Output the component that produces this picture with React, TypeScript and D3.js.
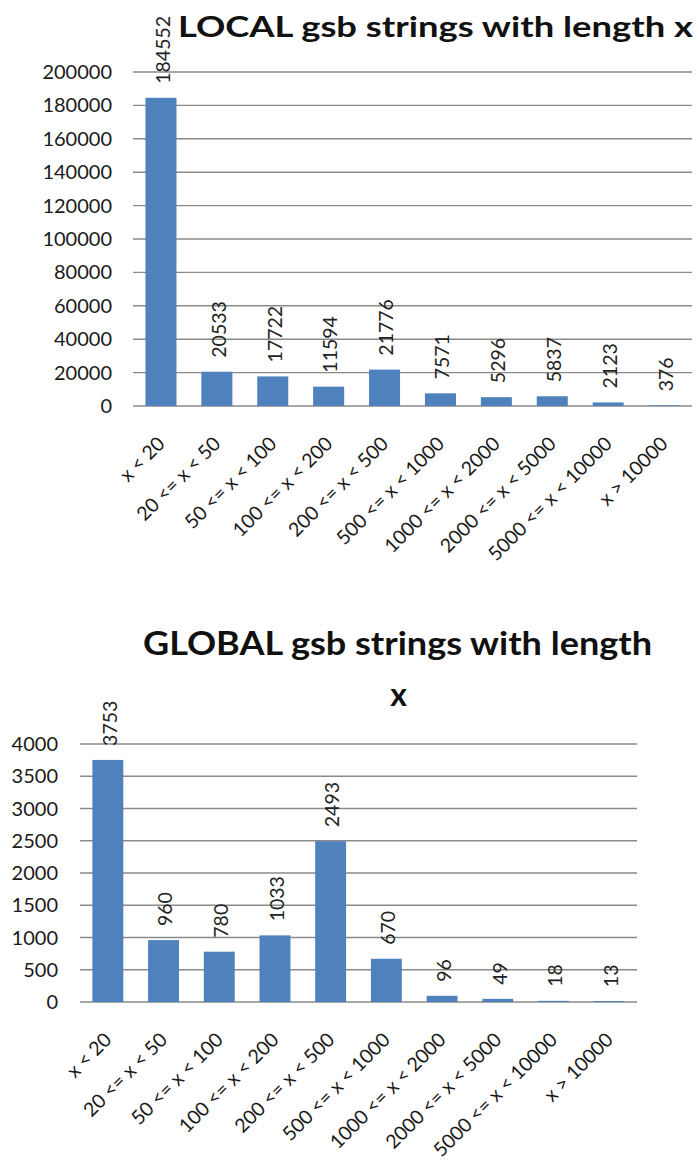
import React from "react";
import * as d3 from "d3";

// Length buckets shared by both charts
const categories = [
  "x < 20",
  "20 <= x < 50",
  "50 <= x < 100",
  "100 <= x < 200",
  "200 <= x < 500",
  "500 <= x < 1000",
  "1000 <= x < 2000",
  "2000 <= x < 5000",
  "5000 <= x < 10000",
  "x > 10000",
];

const localCounts = [184552, 20533, 17722, 11594, 21776, 7571, 5296, 5837, 2123, 376];
const globalCounts = [3753, 960, 780, 1033, 2493, 670, 96, 49, 18, 13];

const localTicks = [0, 20000, 40000, 60000, 80000, 100000, 120000, 140000, 160000, 180000, 200000];
const globalTicks = [0, 500, 1000, 1500, 2000, 2500, 3000, 3500, 4000];

const BAR = "#4F81BD";
const GRID = "#8a8a8a";
const FONT = "Lato, 'Open Sans', sans-serif";

type PanelProps = {
  values: number[];
  ticks: number[];
  yMax: number;
  x0: number;
  x1: number;
  yTop: number;
  yBottom: number;
  tickRight: number;
};

function Panel({ values, ticks, yMax, x0, x1, yTop, yBottom, tickRight }: PanelProps) {
  const x = d3.scaleBand<string>().domain(categories).range([x0, x1]).paddingInner(0.445).paddingOuter(0.2225);
  const y = d3.scaleLinear().domain([0, yMax]).range([yBottom, yTop]);
  const bw = x.bandwidth();
  return (
    <g>
      {ticks.map((t) => (
        <g key={"t" + t}>
          <line x1={x0} x2={x1} y1={y(t)} y2={y(t)} stroke={GRID} strokeWidth={1.4} />
          <text x={tickRight} y={y(t)} dy="0.35em" textAnchor="end" fontSize={20} fontFamily={FONT} fill="#1a1a1a">
            {t}
          </text>
        </g>
      ))}
      {values.map((v, i) => {
        const c = categories[i];
        const cx = (x(c) as number) + bw / 2;
        return (
          <g key={c}>
            <rect x={x(c)} y={y(v)} width={bw} height={yBottom - y(v)} fill={BAR} />
            <text
              transform={`translate(${cx + 2},${y(v) - 14}) rotate(-90)`}
              dy="0.35em"
              textAnchor="start"
              fontSize={19.5}
              fontFamily={FONT}
              fill="#222"
            >
              {v}
            </text>
            <text
              transform={`translate(${cx + 5},${yBottom + 39}) rotate(-45)`}
              textAnchor="end"
              fontSize={19.5}
              fontFamily={FONT}
              fill="#1a1a1a"
            >
              {c}
            </text>
          </g>
        );
      })}
    </g>
  );
}

export default function App() {
  return (
    <svg
      width={700}
      height={1164}
      style={{ position: "absolute", left: 0, top: 0, background: "#fff" }}
    >
      <rect width={700} height={1164} fill="#fff" />
      <text
        x={178}
        y={37}
        fontSize={28.5}
        fontWeight="bold"
        fontFamily={FONT}
        fill="#111"
        textLength={515}
        lengthAdjust="spacingAndGlyphs"
      >
        LOCAL gsb strings with length x
      </text>
      <Panel values={localCounts} ticks={localTicks} yMax={200000} x0={133} x1={692} yTop={72} yBottom={406} tickRight={112} />

      <text
        x={143}
        y={655}
        fontSize={32}
        fontWeight="bold"
        fontFamily={FONT}
        fill="#111"
        textLength={509}
        lengthAdjust="spacingAndGlyphs"
      >
        GLOBAL gsb strings with length
      </text>
      <text x={398.5} y={706} textAnchor="middle" fontSize={32} fontWeight="bold" fontFamily={FONT} fill="#111">
        x
      </text>
      <Panel values={globalCounts} ticks={globalTicks} yMax={4000} x0={80} x1={637} yTop={744} yBottom={1002} tickRight={58} />
    </svg>
  );
}
